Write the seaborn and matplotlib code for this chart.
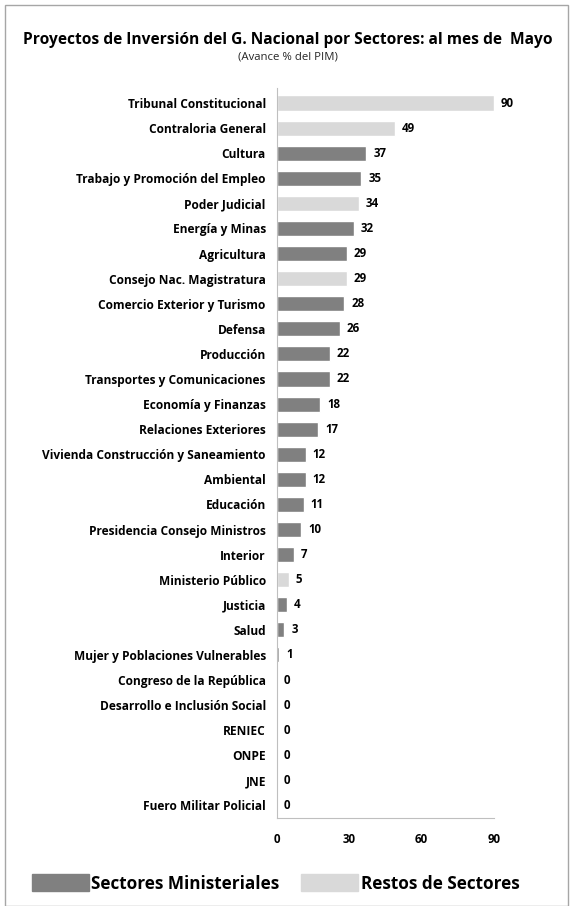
import matplotlib
matplotlib.use("Agg")
import matplotlib.pyplot as plt
import matplotlib.patches as mpatches
import pandas as pd
import seaborn as sns

sectores = ["Tribunal Constitucional", "Contraloria General", "Cultura",
            "Trabajo y Promoción del Empleo", "Poder Judicial", "Energía y Minas",
            "Agricultura", "Consejo Nac. Magistratura", "Comercio Exterior y Turismo",
            "Defensa", "Producción", "Transportes y Comunicaciones",
            "Economía y Finanzas", "Relaciones Exteriores",
            "Vivienda Construcción y Saneamiento", "Ambiental", "Educación",
            "Presidencia Consejo Ministros", "Interior", "Ministerio Público",
            "Justicia", "Salud", "Mujer y Poblaciones Vulnerables",
            "Congreso de la República", "Desarrollo e Inclusión Social",
            "RENIEC", "ONPE", "JNE", "Fuero Militar Policial"]
avance = [90, 49, 37, 35, 34, 32, 29, 29, 28, 26, 22, 22, 18, 17, 12, 12, 11,
          10, 7, 5, 4, 3, 1, 0, 0, 0, 0, 0, 0]
grupo = ["R", "R", "M", "M", "R", "M", "M", "R", "M", "M", "M", "M", "M", "M",
         "M", "M", "M", "M", "M", "R", "M", "M", "M", "M", "M", "R", "R", "R", "R"]

ministerial = "#808080"
restos = "#d9d9d9"

sns.set_style("white")
plt.rcParams["font.family"] = ["Open Sans", "DejaVu Sans"]

df = pd.DataFrame({"sector": sectores, "avance": avance, "grupo": grupo})

fig = plt.figure(figsize=(5.75, 9.06), dpi=100)
ax = fig.add_axes([0.4817, 0.0971, 0.3774, 0.8058])

sns.barplot(data=df, x="avance", y="sector", hue="grupo",
            palette={"M": ministerial, "R": restos}, dodge=False,
            width=0.6, legend=False, ax=ax, saturation=1)

for cont in ax.containers:
    ax.bar_label(cont, fmt="%d", padding=5, fontsize=8.3, fontweight="bold",
                 color="black")

ax.set_xlim(0, 90)
ax.set_ylim(len(sectores) - 0.5, -0.6)
ax.set_xticks([0, 30, 60, 90])
ax.set_xlabel("")
ax.set_ylabel("")
ax.tick_params(axis="x", length=0, pad=11, labelsize=8.3, labelcolor="black")
ax.tick_params(axis="y", length=0, pad=8, labelsize=8.6, labelcolor="black")
for lab in ax.get_xticklabels() + ax.get_yticklabels():
    lab.set_fontweight("bold")
for s in ["top", "right"]:
    ax.spines[s].set_visible(False)
for s in ["left", "bottom"]:
    ax.spines[s].set_color("#bfbfbf")
    ax.spines[s].set_linewidth(0.8)

fig.text(0.5, 1 - 40 / 906, "Proyectos de Inversión del G. Nacional por Sectores: al mes de  Mayo",
         ha="center", va="center", fontsize=11.2, fontweight="bold", color="black")
fig.text(0.5, 1 - 57 / 906, "(Avance % del PIM)", ha="center", va="center",
         fontsize=8.2, color="#262626")

# legend at the bottom
fig.patches.append(mpatches.Rectangle((32 / 575, 1 - 891 / 906), 57 / 575, 17 / 906,
                                      transform=fig.transFigure, color=ministerial))
fig.patches.append(mpatches.Rectangle((301 / 575, 1 - 891 / 906), 57 / 575, 17 / 906,
                                      transform=fig.transFigure, color=restos))
fig.text(91 / 575, 1 - 884 / 906, "Sectores Ministeriales", ha="left", va="center",
         fontsize=12.3, fontweight="bold", color="black")
fig.text(361 / 575, 1 - 884 / 906, "Restos de Sectores", ha="left", va="center",
         fontsize=12.3, fontweight="bold", color="black")

# outer frame
fig.patches.append(mpatches.Rectangle((5 / 575, 0), 563 / 575, 1 - 5 / 906,
                                      transform=fig.transFigure, fill=False,
                                      edgecolor="#a6a6a6", linewidth=1))

fig.savefig("out.png", dpi=100)
